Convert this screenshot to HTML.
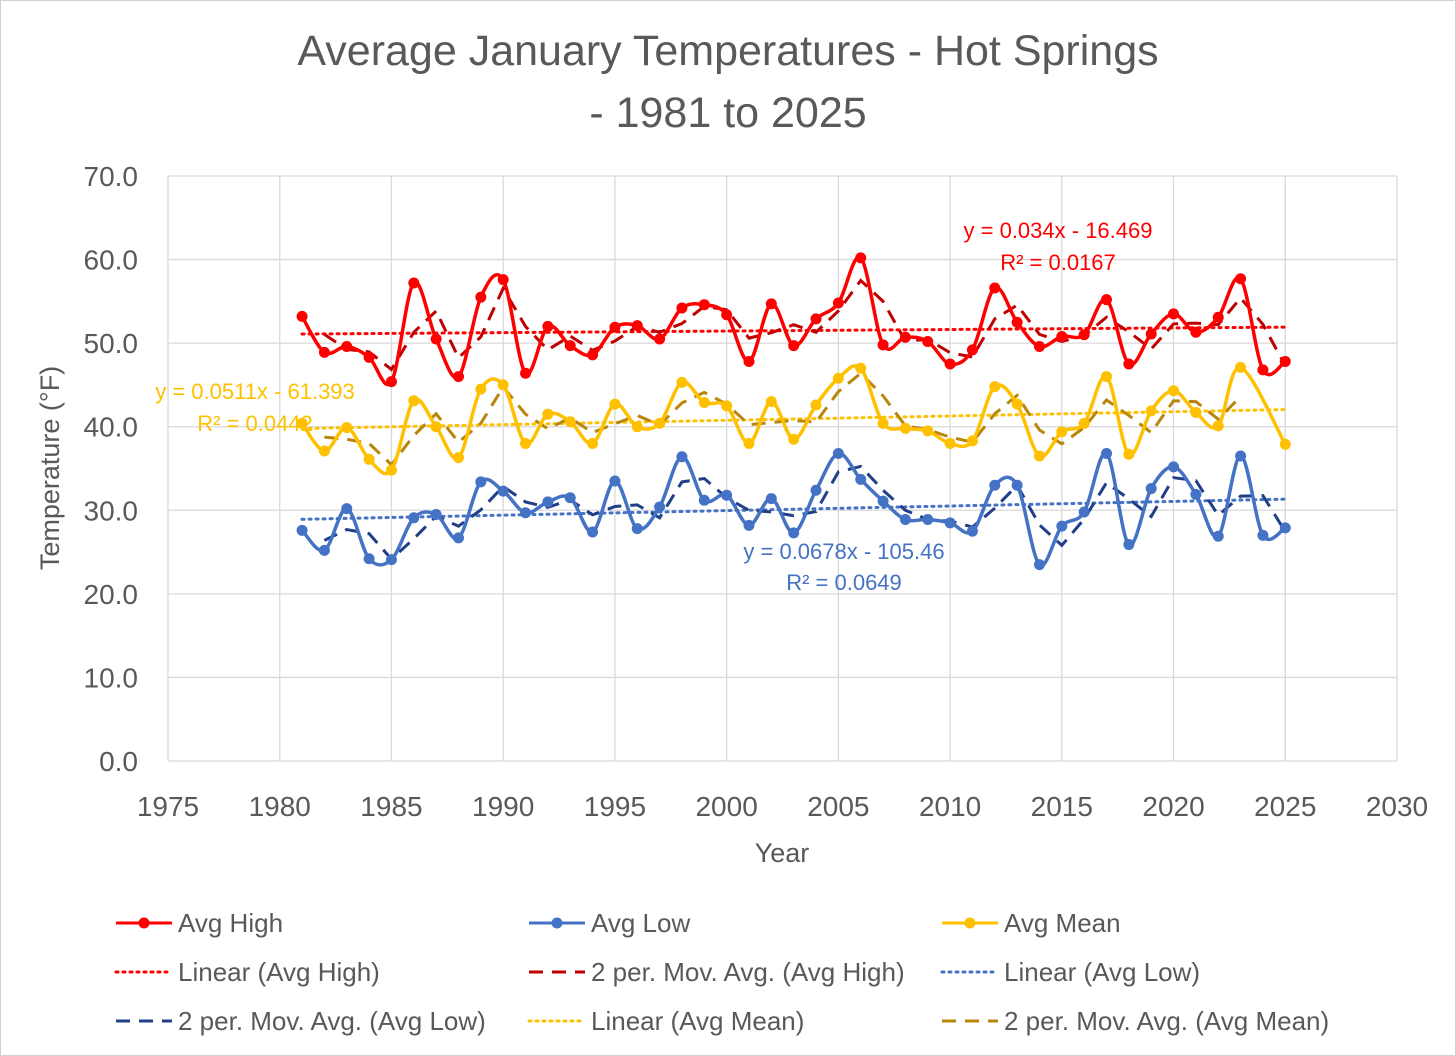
<!DOCTYPE html>
<html><head><meta charset="utf-8"><style>
html,body{margin:0;padding:0;background:#fff}
svg{display:block;font-family:"Liberation Sans",Calibri,sans-serif}
</style></head><body>
<svg id="c" width="1456" height="1056" xmlns="http://www.w3.org/2000/svg">
<rect x="0.5" y="0.5" width="1455" height="1055" fill="#fff" stroke="#d0d0d0"/>
<text x="728" y="65" text-anchor="middle" font-size="43" fill="#595959">Average January Temperatures - Hot Springs</text>
<text x="728" y="127" text-anchor="middle" font-size="43" fill="#595959">- 1981 to 2025</text>
<g id="grid"></g><g id="series"></g><g id="labels"></g><g id="legend"></g>
</svg>
<script>
const years=[];for(let y=1981;y<=2025;y++)years.push(y);
const avgHigh=[53.2,48.9,49.6,48.3,45.4,57.2,50.5,46.0,55.5,57.6,46.4,52.0,49.7,48.6,51.9,52.1,50.5,54.2,54.6,53.4,47.8,54.7,49.7,52.9,54.8,60.2,49.8,50.7,50.2,47.5,49.2,56.6,52.5,49.6,50.8,51.0,55.2,47.5,51.1,53.5,51.3,53.1,57.7,46.8,47.8];
const avgLow=[27.6,25.2,30.2,24.2,24.1,29.1,29.5,26.7,33.4,32.3,29.7,31.0,31.5,27.4,33.5,27.8,30.4,36.4,31.2,31.8,28.2,31.4,27.3,32.4,36.8,33.7,31.1,28.9,28.9,28.5,27.5,33.0,33.0,23.5,28.1,29.8,36.8,25.9,32.6,35.2,31.9,26.9,36.5,27.0,27.9];
const avgMean=[40.4,37.1,39.9,36.1,34.8,43.1,40.0,36.3,44.5,45.0,38.0,41.5,40.6,38.0,42.7,40.0,40.4,45.3,42.9,42.5,38.0,43.0,38.5,42.6,45.8,47.0,40.4,39.8,39.5,38.0,38.3,44.8,42.7,36.5,39.4,40.4,46.0,36.7,41.9,44.3,41.7,40.1,47.1,null,37.9];
const yTicks=[0,10,20,30,40,50,60,70];
const xTicks=[1975,1980,1985,1990,1995,2000,2005,2010,2015,2020,2025,2030];
const X0=168,X1=1397,Y0=761,Y1=176;
const xs=v=>X0+(v-1975)/(2030-1975)*(X1-X0);
const ys=v=>Y0-(v/70)*(Y0-Y1);
const NS="http://www.w3.org/2000/svg";
function mk(tag,attrs,parent){const e=document.createElementNS(NS,tag);for(const k in attrs)e.setAttribute(k,attrs[k]);parent.appendChild(e);return e;}
const grid=document.getElementById('grid'),ser=document.getElementById('series'),lab=document.getElementById('labels'),leg=document.getElementById('legend');
yTicks.forEach(t=>{const l=mk('line',{x1:X0,x2:X1,y1:ys(t),y2:ys(t),stroke:'#d9d9d9','stroke-width':1.3},grid);

const tx=mk('text',{x:X0-30,y:ys(t)+10,'text-anchor':'end','font-size':28,fill:'#595959'},lab);tx.textContent=t.toFixed(1);
});
xTicks.forEach(t=>{const l=mk('line',{x1:xs(t),x2:xs(t),y1:Y1,y2:Y0,stroke:'#d9d9d9','stroke-width':1.3},grid);

const tx=mk('text',{x:xs(t),y:Y0+55,'text-anchor':'middle','font-size':28,fill:'#595959'},lab);tx.textContent=t;
});
let t=mk('text',{x:782,y:862,'text-anchor':'middle','font-size':27,fill:'#595959'},lab);t.textContent='Year';

t=mk('text',{x:0,y:0,'text-anchor':'middle','font-size':27,fill:'#595959',transform:'translate(59,468) rotate(-90)'},lab);t.textContent='Temperature (°F)';


function smooth(pts){let d='M'+pts[0][0]+','+pts[0][1];
for(let i=0;i<pts.length-1;i++){const p0=pts[i-1]||pts[i],p1=pts[i],p2=pts[i+1],p3=pts[i+2]||p2;
const c1=[p1[0]+(p2[0]-p0[0])/6,p1[1]+(p2[1]-p0[1])/6],c2=[p2[0]-(p3[0]-p1[0])/6,p2[1]-(p3[1]-p1[1])/6];
d+=' C'+c1+' '+c2+' '+p2;}return d;}
function draw(vals,col,maCol,name){
const pts=[];vals.forEach((v,i)=>{if(v!=null)pts.push([xs(years[i]),ys(v)]);});
const idx=vals.map((v,i)=>i).filter(i=>vals[i]!=null);const n=idx.length;
let sx=0,sy=0,sxx=0,sxy=0;idx.forEach(i=>{const x=years[i],y=vals[i];sx+=x;sy+=y;sxx+=x*x;sxy+=x*y;});
const m=(n*sxy-sx*sy)/(n*sxx-sx*sx),b=(sy-m*sx)/n;
let e=mk('line',{x1:xs(1981),x2:xs(2025),y1:ys(m*1981+b),y2:ys(m*2025+b),stroke:col,'stroke-width':3,'stroke-dasharray':'2 5','stroke-linecap':'round'},ser);

const ma=[];for(let i=1;i<vals.length;i++){if(vals[i]!=null&&vals[i-1]!=null)ma.push([xs(years[i]),ys((vals[i]+vals[i-1])/2)]);}
e=mk('polyline',{points:ma.map(p=>p.join(',')).join(' '),fill:'none',stroke:maCol,'stroke-width':3,'stroke-dasharray':'14 9'},ser);

e=mk('path',{d:smooth(pts),fill:'none',stroke:col,'stroke-width':3.5},ser);

pts.forEach(p=>{const c=mk('circle',{cx:p[0],cy:p[1],r:5.5,fill:col},ser);
});}
draw(avgLow,'#4472c4','#203f86','avg-low');
draw(avgMean,'#ffc000','#b8860b','avg-mean');
draw(avgHigh,'#ff0000','#c00000','avg-high');
[['y = 0.034x - 16.469',1058,238,'#ff0000'],['R² = 0.0167',1058,270,'#ff0000'],['y = 0.0511x - 61.393',255,399,'#ffc000'],['R² = 0.0442',255,431,'#ffc000'],['y = 0.0678x - 105.46',844,559,'#4472c4'],['R² = 0.0649',844,590,'#4472c4']].forEach(a=>{
const e=mk('text',{x:a[1],y:a[2],'text-anchor':'middle','font-size':22,fill:a[3]},lab);e.textContent=a[0];
});
const legItems=[['Avg High','#ff0000','line'],['Avg Low','#4472c4','line'],['Avg Mean','#ffc000','line'],
['Linear (Avg High)','#ff0000','dot'],['2 per. Mov. Avg. (Avg High)','#c00000','dash'],['Linear (Avg Low)','#4472c4','dot'],
['2 per. Mov. Avg. (Avg Low)','#203f86','dash'],['Linear (Avg Mean)','#ffc000','dot'],['2 per. Mov. Avg. (Avg Mean)','#b8860b','dash']];
const colX=[116,529,942],rowY=[923,972,1021];
legItems.forEach((it,i)=>{const x=colX[i%3],y=rowY[Math.floor(i/3)];
const g=mk('g',{},leg);
const attrs={x1:x,x2:x+56,y1:y,y2:y,stroke:it[1],'stroke-width':3};
if(it[2]=='dot'){attrs['stroke-dasharray']='2 5';attrs['stroke-linecap']='round';}
if(it[2]=='dash')attrs['stroke-dasharray']='14 9';
mk('line',attrs,g);if(it[2]=='line')mk('circle',{cx:x+28,cy:y,r:5.5,fill:it[1]},g);
const tx=mk('text',{x:x+62,y:y+9,'font-size':26,fill:'#595959'},g);tx.textContent=it[0];});
</script>
</body></html>
